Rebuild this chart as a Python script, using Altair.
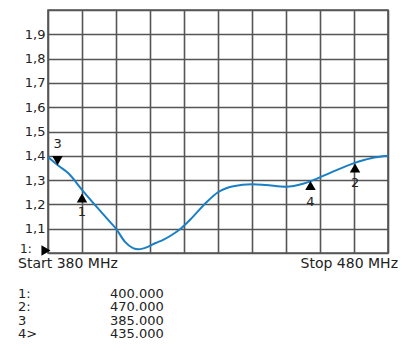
import altair as alt
import pandas as pd

# Trace (frequency MHz, value)
freq = [380, 383, 386, 390, 393.8, 397.7, 400, 402.6, 405, 406.6, 409.5, 411.5, 414, 416.5,
        419, 422, 426.7, 430, 434.5, 440, 444, 450, 455, 458, 463, 470, 475, 480]
vals = [1.395, 1.36, 1.328, 1.26, 1.198, 1.136, 1.10, 1.047, 1.02, 1.015, 1.026, 1.04, 1.055, 1.075,
        1.10, 1.14, 1.21, 1.25, 1.275, 1.283, 1.28, 1.273, 1.285, 1.30, 1.33, 1.37, 1.39, 1.40]

# Markers as drawn
mk_freq = [390, 470.3, 382.8, 457.2]
mk_val = [1.226, 1.35, 1.38, 1.278]
mk_shape = ["triangle-up", "triangle-up", "triangle-down", "triangle-up"]
mk_label = ["1", "2", "3", "4"]
mk_label_val = [1.17, 1.29, 1.45, 1.21]

# Legend table
leg_names = ["1:", "2:", "3", "4>"]
leg_values = ["400.000", "470.000", "385.000", "435.000"]

FONT = "DejaVu Sans"
GRID = "#555555"
BLUE = "#1a7fc4"
TXT = "#222222"

trace = pd.DataFrame({"f": freq, "v": vals})
markers = pd.DataFrame({"f": mk_freq, "v": mk_val, "shape": mk_shape,
                        "label": mk_label, "lv": mk_label_val})
start = pd.DataFrame({"f": [379.4], "v": [1.01]})

xs = alt.Scale(domain=[380, 480], nice=False, zero=False)
ys = alt.Scale(domain=[1.0, 2.0], nice=False, zero=False)

xax = alt.Axis(values=list(range(380, 481, 10)), labels=False, ticks=False, domain=False,
               title=None, grid=True, gridColor=GRID, gridWidth=1.6, gridOpacity=1)
yax = alt.Axis(values=[round(1 + i * 0.1, 1) for i in range(11)], ticks=False, domain=False,
               title=None, grid=True, gridColor=GRID, gridWidth=1.6, gridOpacity=1,
               labelFont=FONT, labelFontSize=13, labelColor=TXT, labelPadding=3,
               labelExpr="(datum.value >= 1.95 || datum.value < 1.05) ? '' : replace(format(datum.value, '.1f'), '.', ',')")


def X(field):
    return alt.X(field, type="quantitative", scale=xs, axis=xax)


def Y(field):
    return alt.Y(field, type="quantitative", scale=ys, axis=yax)


line = alt.Chart(trace).mark_line(color=BLUE, strokeWidth=2, interpolate="monotone").encode(
    x=X("f"), y=Y("v"),
)

tri = alt.Chart(markers).mark_point(filled=True, color="black", opacity=1, size=110).encode(
    x=X("f"), y=Y("v"),
    shape=alt.Shape("shape:N", scale=None),
)

tri_lab = alt.Chart(markers).mark_text(font=FONT, fontSize=13, color=TXT, clip=False).encode(
    x=X("f"), y=Y("lv"), text="label:N",
)

start_tri = alt.Chart(start).mark_point(filled=True, color="black", opacity=1, size=110,
                                        shape="triangle-right", clip=False).encode(
    x=X("f"), y=Y("v"),
)

start_lab = alt.Chart(pd.DataFrame({"t": ["1:"]})).mark_text(
    font=FONT, fontSize=12, color=TXT, align="left", baseline="alphabetic").encode(
    x=alt.value(-28), y=alt.value(243), text="t:N")

start_txt = alt.Chart(pd.DataFrame({"t": ["Start 380 MHz"]})).mark_text(
    font=FONT, fontSize=14, color=TXT, align="left", baseline="top").encode(
    x=alt.value(-30), y=alt.value(247), text="t:N")

stop_txt = alt.Chart(pd.DataFrame({"t": ["Stop 480 MHz"]})).mark_text(
    font=FONT, fontSize=14, color=TXT, align="right", baseline="top").encode(
    x=alt.value(350), y=alt.value(247), text="t:N")

leg_left = alt.Chart(pd.DataFrame({"t": ["\n".join(leg_names)]})).mark_text(
    font=FONT, fontSize=13, color=TXT, align="left", baseline="middle",
    lineBreak="\n", lineHeight=13.6).encode(
    x=alt.value(-30), y=alt.value(283.5), text="t:N")

leg_right = alt.Chart(pd.DataFrame({"t": ["\n".join(leg_values)]})).mark_text(
    font=FONT, fontSize=13, color=TXT, align="left", baseline="middle",
    lineBreak="\n", lineHeight=13.6).encode(
    x=alt.value(62), y=alt.value(283.5), text="t:N")

chart = alt.layer(line, tri, tri_lab, start_tri, start_lab, start_txt, stop_txt,
                  leg_left, leg_right).properties(
    width=340, height=243,
    autosize=alt.AutoSizeParams(type="none"),
    padding={"left": 40, "top": 2, "right": 17, "bottom": 90},
    background="white",
).configure_view(stroke=GRID, strokeWidth=1.6)

chart.save("out.html", embed_options={"renderer": "svg", "actions": False})
